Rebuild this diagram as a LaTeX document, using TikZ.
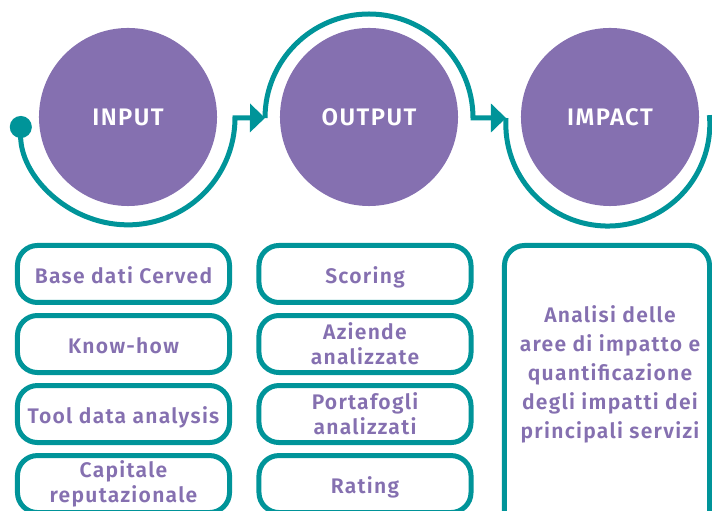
\documentclass[tikz,border=0pt]{standalone}
\usepackage{fontspec}
\setmainfont{Fira Sans}[BoldFont={Fira Sans SemiBold},BoldFeatures={LetterSpace=6}]
\usetikzlibrary{positioning,arrows.meta}
\definecolor{cvpurple}{RGB}{133,112,176}
\definecolor{cvteal}{RGB}{0,148,153}
\begin{document}
\begin{tikzpicture}[x=0.025cm,y=0.025cm,
    phase/.style={circle,fill=cvpurple,minimum size=4.45cm,inner sep=0pt,
      text=white,font=\bfseries\fontsize{17}{20}\selectfont},
    flow/.style={draw=cvteal,line width=0.125cm},
    item/.style={draw=cvteal,line width=0.125cm,rounded corners=0.5cm,
      minimum width=5.3cm,minimum height=1.425cm,inner sep=0pt,align=center,
      text=cvpurple,font=\bfseries\fontsize{15}{17.8}\selectfont},
    oneline/.style={text height=13pt,text depth=0pt},
    note/.style={align=center,text=cvpurple,font=\bfseries\fontsize{15}{20.6}\selectfont}]
      \useasboundingbox (0,0) rectangle (712,511);
      \clip (0,0) rectangle (712,511);

      \node[phase] (in) at (128,394) {INPUT};
      \node[phase] (out) at (369,394) {OUTPUT};
      \node[phase] (imp) at (610,394) {IMPACT};

      % the teal line running round the three steps
      \draw[flow,{Circle[length=0.55cm]}-{Triangle[length=0.375cm,width=0.7cm]}]
        ([shift={(-107,1)}]in.center) arc[start angle=179,end angle=360,radius=107]
        -- ([shift={(-104,-1)}]out.center);
      \draw[flow,-{Triangle[length=0.375cm,width=0.7cm]}]
        ([shift={(-104,-1)}]out.center) arc[start angle=180,end angle=0,radius=104]
        -- ([shift={(-104,-1)}]imp.center);
      \draw[flow] ([shift={(-104,-1)}]imp.center) arc[start angle=176.6,end angle=365,radius=102];

      % input column
      \node[item,oneline] (b1) at (123.5,237) {Base dati Cerved};
      \node[item,oneline,below=0.2cm of b1] (b2) {Know-how};
      \node[item,oneline,below=0.2cm of b2] (b3) {Tool data analysis};
      \node[item,below=0.2cm of b3] (b4) {Capitale\\reputazionale};

      % output column
      \node[item,oneline] (s1) at (365,237) {Scoring};
      \node[item,below=0.2cm of s1] (s2) {Aziende\\analizzate};
      \node[item,below=0.2cm of s2] (s3) {Portafogli\\analizzati};
      \node[item,oneline,below=0.2cm of s3] (s4) {Rating};

      % impact column
      \node[item,minimum width=5.125cm,minimum height=8cm,anchor=north] (a1) at (607,268) {};
      \node[note] (a1text) at (610,137) {Analisi delle\\aree di impatto e\\quantificazione\\degli impatti dei\\principali servizi};
    \end{tikzpicture}
\end{document}
